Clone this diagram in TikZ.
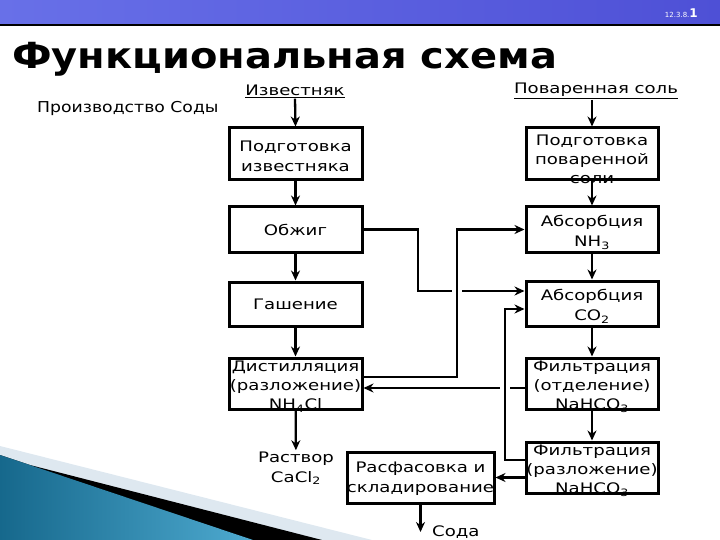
\documentclass[tikz,border=0pt]{standalone}
\usepackage{fontspec}
\setmainfont{DejaVu Sans}
\newfontfamily\widefont[FakeStretch=1.25]{DejaVu Sans}
\newfontfamily\subfont[FakeStretch=1.15]{DejaVu Sans}
\newfontfamily\titlefont[FakeStretch=1.11]{DejaVu Sans Bold}
\usetikzlibrary{arrows.meta,calc}

\definecolor{bannerA}{RGB}{104,112,232}
\definecolor{bannerB}{RGB}{78,80,214}
\definecolor{tealdark}{RGB}{22,104,140}
\definecolor{teallight}{RGB}{78,170,208}
\definecolor{swooshgray}{RGB}{222,232,240}

\tikzset{
  blk/.style={draw, line width=3pt, fill=white, inner sep=0pt},
  lbl/.style={align=center, inner sep=1pt, font=\widefont\fontsize{14.5}{20}\selectfont},
  flow/.style={line width=2.3pt, -{Stealth[length=10pt,width=9pt]}},
  jump/.style={preaction={draw=white, line width=10pt, -, shorten <=6pt, shorten >=6pt}},
}

\begin{document}
\begin{tikzpicture}[x=1pt,y=-1pt]
  \useasboundingbox (0,0) rectangle (720,540);

  % Banner and slide number
  \shade[left color=bannerA, right color=bannerB] (0,0) rectangle (720,25);
  \draw[line width=1.4pt] (0,25) -- (720,25);
  \node[anchor=base east, text=white, inner sep=0pt] (slidenum) at (698,18)
    {{\fontsize{7}{7}\selectfont 12.3.8.}{\fontsize{12}{12}\selectfont\bfseries 1}};

  % Swoosh, bottom left
  \fill[swooshgray] (0,446) -- (372,540) -- (0,540) -- cycle;
  \fill[black] (0,455) -- (30,465) -- (322,540) -- (0,540) -- cycle;
  \shade[left color=tealdark, right color=teallight] (0,455) -- (253,540) -- (0,540) -- cycle;

  % Title
  \node[anchor=base west, inner sep=0pt, font=\titlefont\fontsize{36}{36}\selectfont] (title) at (12,69) {Функциональная схема};
  \node[anchor=base west, inner sep=0pt, font=\subfont\fontsize{15}{15}\selectfont] (subtitle) at (37,113) {Производство Соды};

  % Raw materials
  \node[lbl] (izv) at (295,91) {\underline{Известняк}};
  \node[lbl] (sol) at (596,91) {\underline{Поваренная соль}};

  % Left column
  \node[blk, minimum width=133, minimum height=52, label={[lbl, yshift=-2pt]center:Подготовка\\известняка}] (pizv) at (295.5,154) {};
  \node[blk, minimum width=133, minimum height=45, label={[lbl]center:Обжиг}] (obzh) at (295.5,229.5) {};
  \node[blk, minimum width=133, minimum height=44, label={[lbl]center:Гашение}] (gash) at (295.5,304) {};
  \node[blk, minimum width=133, minimum height=51, label={[lbl, font=\widefont\fontsize{14.5}{19}\selectfont, yshift=-3pt]center:Дистилляция\\(разложение)\\NH\textsubscript{4}Cl}] (dist) at (295.5,383.5) {};
  \node[lbl] (rast) at (296,468) {Раствор\\CaCl\textsubscript{2}};

  % Right column
  \node[blk, minimum width=132, minimum height=52, label={[lbl, font=\widefont\fontsize{14.5}{19}\selectfont, yshift=-5pt]center:Подготовка\\поваренной\\соли}] (psol) at (592,154) {};
  \node[blk, minimum width=132, minimum height=45, label={[lbl, yshift=-3pt]center:Абсорбция\\NH\textsubscript{3}}] (nh3) at (592,229.5) {};
  \node[blk, minimum width=132, minimum height=45, label={[lbl, yshift=-3pt]center:Абсорбция\\CO\textsubscript{2}}] (co2) at (592,303.5) {};
  \node[blk, minimum width=132, minimum height=51, label={[lbl, font=\widefont\fontsize{14.5}{19}\selectfont, yshift=-3pt]center:Фильтрация\\(отделение)\\NaHCO\textsubscript{3}}] (filt1) at (592,383.5) {};
  \node[blk, minimum width=132, minimum height=51, label={[lbl, font=\widefont\fontsize{14.5}{19}\selectfont, yshift=-3pt]center:Фильтрация\\(разложение)\\NaHCO\textsubscript{3}}] (filt2) at (592,467.5) {};

  % Packing
  \node[blk, minimum width=147, minimum height=51, label={[lbl, yshift=-1pt]center:Расфасовка и\\складирование}] (ras) at (420.5,477.5) {};
  \node[lbl, anchor=west] (soda) at (431,532) {Сода};

  % Bends of the recycle lines
  \coordinate (b1) at (418,291);
  \coordinate (b2) at (457,377);
  \coordinate (b3) at (0,388);
  \coordinate (b4) at (505,460);
  \coordinate (b5) at (505,309);

  % Main flows
  \draw[flow] (izv.south) -- (pizv.north);
  \draw[flow] (pizv) -- (obzh);
  \draw[flow] (obzh) -- (gash);
  \draw[flow] (gash) -- (dist);
  \draw[flow] (dist) -- (rast);
  \draw[flow] (sol.south -| psol.north) -- (psol.north);
  \draw[flow] (psol) -- (nh3);
  \draw[flow] (nh3) -- (co2);
  \draw[flow] (co2) -- (filt1);
  \draw[flow] (filt1) -- (filt2);
  \draw[flow] (filt2.west |- ras.east) -- (ras.east);
  \draw[flow] (ras.south) -- (ras.south |- soda.west);

  % Cross links
  \draw[flow] (obzh.east) -| (b1) -- (co2.west |- b1);
  \draw[flow] (filt1.west |- b3) -- (dist.east |- b3);
  \draw[flow, jump] (dist.east |- b2) -- (b2) |- (nh3.west);
  \draw[flow, jump] (filt2.west |- b4) -- (b4) -- (b5) -- (co2.west |- b5);
\end{tikzpicture}
\end{document}
